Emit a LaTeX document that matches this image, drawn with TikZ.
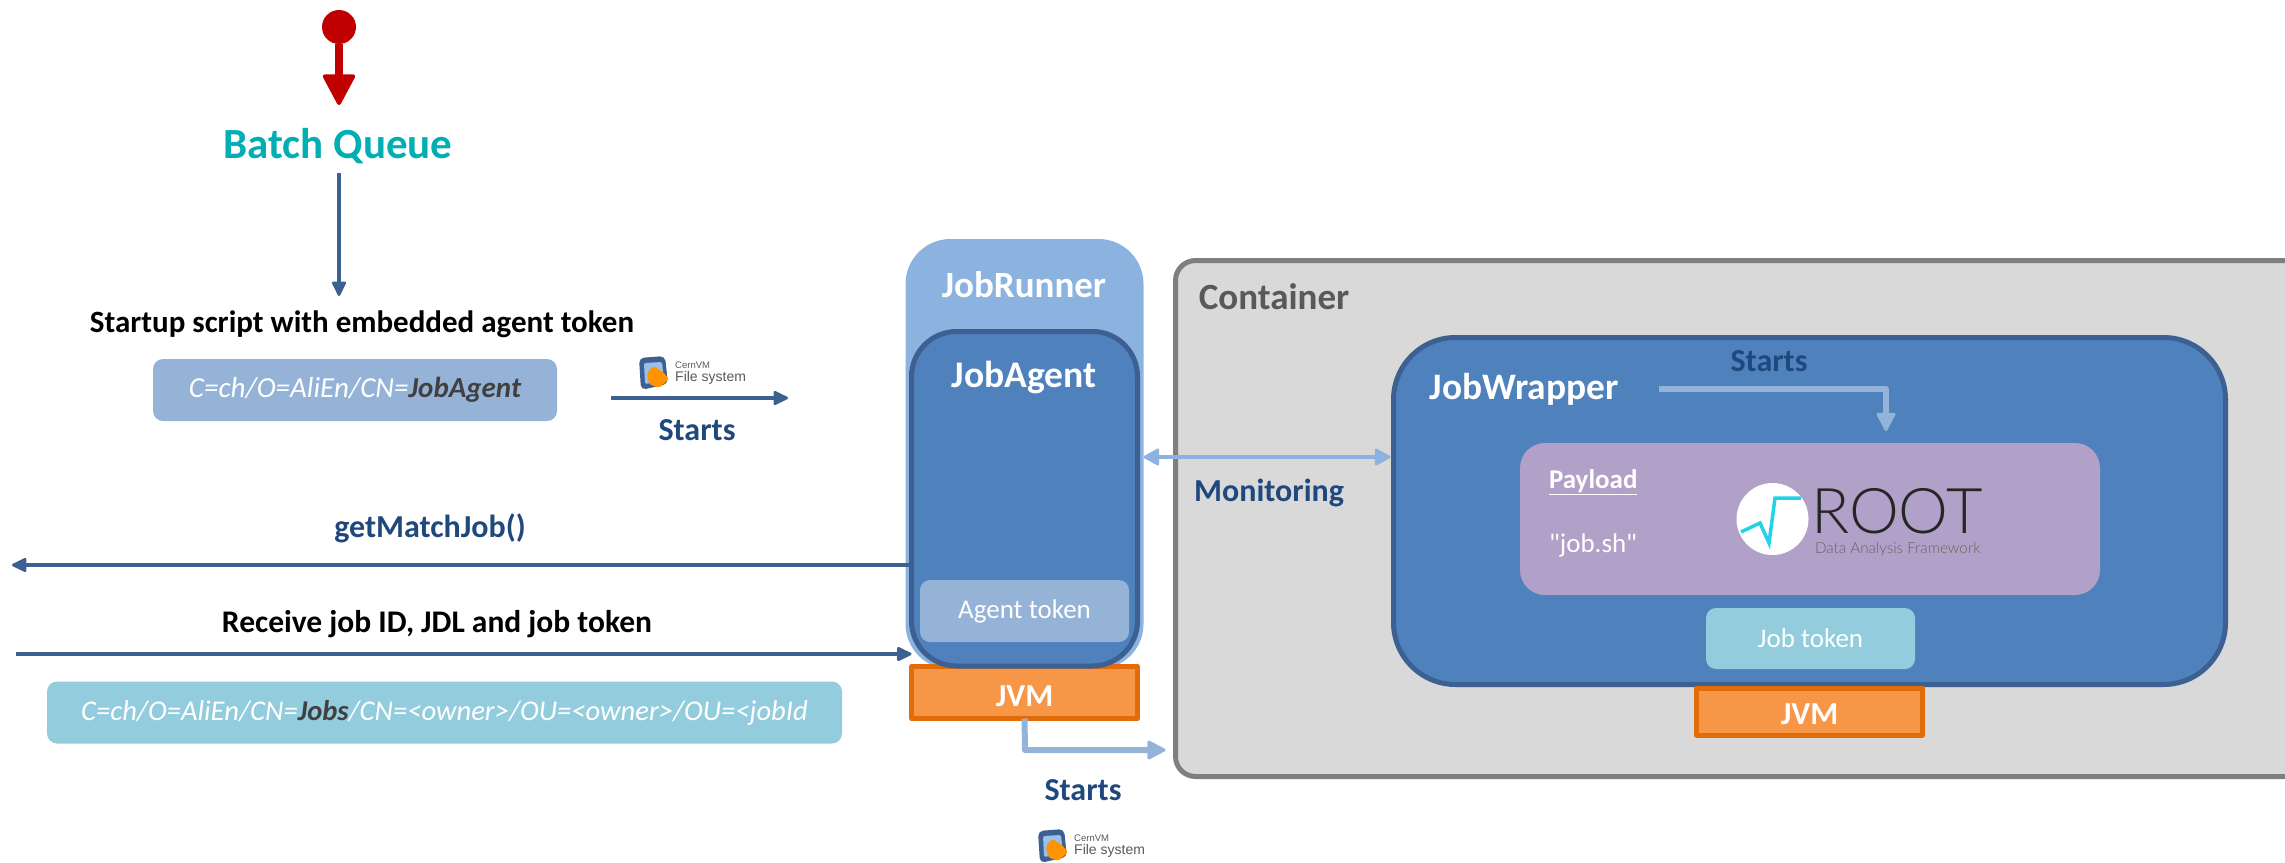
\documentclass[tikz,border=0pt]{standalone}
\usepackage{fontspec}
\setmainfont{Carlito}
\newfontfamily\plainfont{Carlito}
\newfontfamily\rootfont{Lato Light}
\newfontfamily\logofont{Liberation Sans}
\usetikzlibrary{positioning,shapes.geometric,arrows.meta}
\definecolor{arrowblue}{HTML}{3B6091}
\definecolor{lightblue}{HTML}{8CB3E0}
\definecolor{startblue}{HTML}{94B3D9}
\definecolor{midblue}{HTML}{4F81BD}
\definecolor{paleblue}{HTML}{95B3D7}
\definecolor{titleblue}{HTML}{1F497D}
\definecolor{teal}{HTML}{93CDDD}
\definecolor{queuecyan}{HTML}{00AEB3}
\definecolor{jvmfill}{HTML}{F79646}
\definecolor{jvmline}{HTML}{E36C0A}
\definecolor{payloadfill}{HTML}{B1A0C7}
\definecolor{boxgray}{HTML}{D9D9D9}
\definecolor{linegray}{HTML}{7F7F7F}
\definecolor{textgray}{HTML}{595959}
\definecolor{rootcyan}{HTML}{22D3E8}
\definecolor{darktext}{HTML}{404040}
\definecolor{redmark}{HTML}{C00000}
\newcommand{\fsize}[1]{\fontsize{#1}{#1}\selectfont}
\tikzstyle{darrow} = [line width=3.5pt,arrowblue,-{Triangle[length=16pt,width=15pt,line width=2.5pt,round]}]
\tikzstyle{larrow} = [line width=6pt,startblue,line join=round,-{Triangle[length=20pt,width=20pt,line width=3pt,round]}]
\tikzstyle{txt} = [inner sep=0pt,outer sep=0pt,font=\fsize{32}\bfseries]
\tikzstyle{box} = [inner sep=0pt,outer sep=0pt]
\tikzstyle{jvm} = [box,draw=jvmline,line width=5pt,line join=round,fill=jvmfill]
\tikzset{
  cernvm/.pic={
    \fill[arrowblue,rounded corners=5pt] (0,1) -- (26,-1) -- (29,27) -- (2,33) -- cycle;
    \fill[lightblue!85!white,rounded corners=2pt] (5,6) -- (23,5) -- (25,24) -- (6,27) -- cycle;
    \fill[orange!85!yellow,rounded corners=2pt] (8,16) -- (14,9) -- (24,15) -- (30,22) -- (20,31) -- (10,27) -- cycle;
    \node[anchor=west,inner sep=0pt,text=textgray,font=\logofont\fsize{9.5}] (cernvmtop) at (36,8) {CernVM};
    \node[anchor=west,inner sep=0pt,text=textgray,font=\logofont\fsize{14}] (cernvmbottom) at (36,21) {File system};
  }
}
\begin{document}
\begin{tikzpicture}[x=1pt,y=-1pt]
	\clip (0,0) rectangle (2285,862);
	% left column
	\node[circle,fill=redmark,minimum size=34pt,inner sep=0pt] (start) at (339,27) {};
	\node[txt,text=queuecyan,font=\fsize{43}\bfseries] (queue) at (338,146) {Batch Queue};
	\coordinate (startend) at (339,105);
	\node[txt,text=black,font=\fsize{31}\bfseries] (startup) at (362,324) {Startup script with embedded agent token};
	\node[box,fill=paleblue,rounded corners=10pt,minimum width=404pt,minimum height=62pt,text=white,font=\fsize{29}\itshape] (agentcert) at (355,390) {C=ch/O=AliEn/CN=\textcolor{darktext}{\bfseries JobAgent}};
	\pic at (639,357) {cernvm};
	\coordinate (bootstart) at (611,398);
	\coordinate (bootend) at (788,398);
	\node[txt,text=titleblue] (bootlabel) at (697,430) {Starts};
	\node[txt,text=titleblue] (matchlabel) at (430,528) {getMatchJob()};
	\node[txt,text=black,font=\fsize{31.5}\bfseries] (receivelabel) at (437,624) {Receive job ID, JDL and job token};
	\node[box,fill=teal,rounded corners=10pt,minimum width=795pt,minimum height=62pt,text=white,font=\fsize{28.6}\itshape] (jobcert) at (444.5,712.5) {C=ch/O=AliEn/CN=\textcolor{darktext}{\bfseries Jobs}/CN=<owner>/OU=<owner>/OU=<jobId\hspace{26pt}};
	\coordinate (matchend) at (12,565);
	\coordinate (receivestart) at (16,654);
	% runner
	\node[box,fill=lightblue,rounded corners=45pt,minimum width=238pt,minimum height=430pt] (runner) at (1024.5,454) {};
	\node[jvm,minimum width=226pt,minimum height=52pt] (jvmleft) at (1024.5,692.5) {};
	\node[box,draw=arrowblue,line width=5pt,fill=midblue,rounded corners=45pt,minimum width=226pt,minimum height=334.5pt] (agent) at (1024.5,498.75) {};
	\node[txt,text=white,font=\fsize{37}\bfseries] (runnerlabel) at (1024,285) {JobRunner};
	\node[txt,text=white,font=\fsize{37.6}\bfseries] (agentlabel) at (1024,377) {JobAgent};
	\node[box,fill=paleblue,rounded corners=10pt,minimum width=209pt,minimum height=62pt,text=white,font=\fsize{27}] (agenttoken) at (1024.5,611) {Agent token};
	\node[txt,text=white,below=-33pt of jvmleft.south] (jvmleftlabel) {JVM};
	\node[txt,text=titleblue] (jvmstarts) at (1083,790) {Starts};
	\pic at (1038,830) {cernvm};
	% container
	\node[box,draw=linegray,line width=5pt,fill=boxgray,rounded corners=20pt,minimum width=1160pt,minimum height=516pt] (container) at (1755.5,518.5) {};
	\node[txt,text=textgray,font=\fsize{37}\bfseries] (containerlabel) at (1274,297) {Container};
	\node[box,draw=arrowblue,line width=5pt,fill=midblue,rounded corners=62pt,minimum width=832pt,minimum height=347pt] (wrapper) at (1809.5,511) {};
	\node[txt,text=white,font=\fsize{37.4}\bfseries] (wrapperlabel) at (1524,389) {JobWrapper};
	\node[txt,text=titleblue] (wrapperstarts) at (1769,361) {Starts};
	\node[box,fill=payloadfill,rounded corners=25pt,minimum width=580pt,minimum height=152pt] (payload) at (1810,519) {};
	\node[txt,text=white,font=\fsize{27}\bfseries,anchor=west] (payloadlabel) at (1549,482) {\underline{Payload}};
	\node[txt,text=white,font=\plainfont\fsize{27},anchor=west] (jobsh) at (1549,545) {"job.sh"};
	\node[ellipse,fill=white,minimum width=72pt,minimum height=72pt,inner sep=0pt] (rootball) at (1772.5,519) {};
	\node[txt,text=black!85,font=\rootfont\fsize{63},anchor=west] (roottext) at (1811,511) {ROOT};
	\node[txt,text=black!60,font=\rootfont\fsize{15.2},anchor=west] (roottag) at (1815,549) {Data Analysis Framework};
	\node[box,fill=teal,rounded corners=10pt,minimum width=209pt,minimum height=61pt,text=white,font=\fsize{27}] (jobtoken) at (1810.5,638.5) {Job token};
	\node[jvm,minimum width=226pt,minimum height=47pt] (jvmright) at (1809.5,711.5) {};
	\node[txt,text=white] (jvmrightlabel) at (1809.5,714) {JVM};
	% connectors
	\draw[line width=8pt,redmark,-{Triangle[length=33pt,width=34pt,line width=4pt,round]}] (start) -- (startend);
	\draw[darrow] (start.south |- 0,173) -- (start.south |- 0,296);
	\draw[darrow] (bootstart) -- (bootend);
	\draw[darrow] (agent.west |- matchend) -- (matchend);
	\draw[darrow] (receivestart) -- (agent.west |- receivestart);
	\draw[line width=4pt,lightblue,shorten >=3pt,{Triangle[length=17pt,width=18pt,line width=2.5pt,round]}-{Triangle[length=17pt,width=18pt,line width=2.5pt,round]}] (runner.east |- 0,457) -- (wrapper.west |- 0,457);
	\node[txt,text=titleblue] (monitoring) at (1269,493) {Monitoring};
	\draw[larrow] ([xshift=41pt]wrapperlabel.east |- 0,389) -- (1886,389) -- (1886,431);
	\draw[larrow,shorten >=10pt] (jvmleft.south) -- (1025,750) -- (container.west |- 0,750);
	\draw[rootcyan,line width=3.5pt] (1741,532) -- (1760,523) -- (1769,543) -- (1775,498) -- (1801,498);
\end{tikzpicture}
\end{document}
